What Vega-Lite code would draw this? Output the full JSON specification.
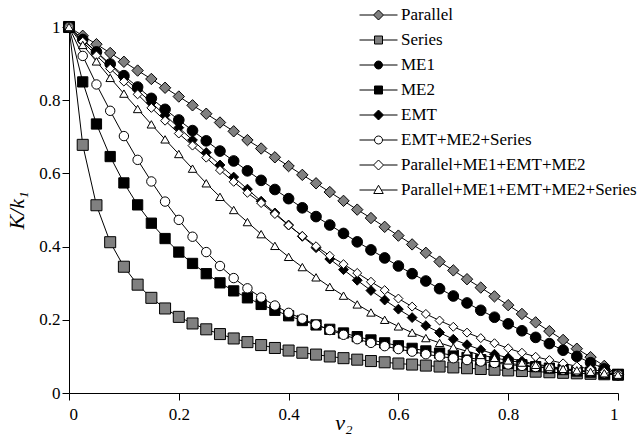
{
  "$schema": "https://vega.github.io/schema/vega-lite/v6.json",
  "width": 549,
  "height": 366,
  "autosize": "none",
  "padding": {"left": 69, "top": 27, "right": 26, "bottom": 47},
  "background": "white",
  "config": {
    "view": {"stroke": null},
    "font": "Liberation Serif",
    "axis": {
      "domainColor": "black", "tickColor": "black", "labelColor": "black", "titleColor": "black",
      "labelFont": "Liberation Serif", "titleFont": "Liberation Serif", "labelFontSize": 17,
      "grid": false, "tickSize": 7, "labelPadding": 2, "domainWidth": 1, "tickWidth": 1
    },
    "legend": {
      "labelFont": "Liberation Serif", "labelFontSize": 17, "labelColor": "black", "labelLimit": 400
    }
  },
  "data": {"values": [
    {"model":"Parallel","v":0,"K":1},{"model":"Parallel","v":0.025,"K":0.976},{"model":"Parallel","v":0.05,"K":0.953},{"model":"Parallel","v":0.075,"K":0.929},{"model":"Parallel","v":0.1,"K":0.905},{"model":"Parallel","v":0.125,"K":0.881},{"model":"Parallel","v":0.15,"K":0.858},{"model":"Parallel","v":0.175,"K":0.834},{"model":"Parallel","v":0.2,"K":0.81},{"model":"Parallel","v":0.225,"K":0.786},{"model":"Parallel","v":0.25,"K":0.763},{"model":"Parallel","v":0.275,"K":0.739},{"model":"Parallel","v":0.3,"K":0.715},{"model":"Parallel","v":0.325,"K":0.691},{"model":"Parallel","v":0.35,"K":0.668},{"model":"Parallel","v":0.375,"K":0.644},{"model":"Parallel","v":0.4,"K":0.62},{"model":"Parallel","v":0.425,"K":0.596},{"model":"Parallel","v":0.45,"K":0.573},{"model":"Parallel","v":0.475,"K":0.549},{"model":"Parallel","v":0.5,"K":0.525},{"model":"Parallel","v":0.525,"K":0.501},{"model":"Parallel","v":0.55,"K":0.478},{"model":"Parallel","v":0.575,"K":0.454},{"model":"Parallel","v":0.6,"K":0.43},{"model":"Parallel","v":0.625,"K":0.406},{"model":"Parallel","v":0.65,"K":0.383},{"model":"Parallel","v":0.675,"K":0.359},{"model":"Parallel","v":0.7,"K":0.335},{"model":"Parallel","v":0.725,"K":0.311},{"model":"Parallel","v":0.75,"K":0.288},{"model":"Parallel","v":0.775,"K":0.264},{"model":"Parallel","v":0.8,"K":0.24},{"model":"Parallel","v":0.825,"K":0.216},{"model":"Parallel","v":0.85,"K":0.193},{"model":"Parallel","v":0.875,"K":0.169},{"model":"Parallel","v":0.9,"K":0.145},{"model":"Parallel","v":0.925,"K":0.121},{"model":"Parallel","v":0.95,"K":0.098},{"model":"Parallel","v":0.975,"K":0.074},{"model":"Parallel","v":1,"K":0.05},
    {"model":"Series","v":0,"K":1},{"model":"Series","v":0.025,"K":0.678},{"model":"Series","v":0.05,"K":0.513},{"model":"Series","v":0.075,"K":0.412},{"model":"Series","v":0.1,"K":0.345},{"model":"Series","v":0.125,"K":0.296},{"model":"Series","v":0.15,"K":0.26},{"model":"Series","v":0.175,"K":0.231},{"model":"Series","v":0.2,"K":0.208},{"model":"Series","v":0.225,"K":0.19},{"model":"Series","v":0.25,"K":0.174},{"model":"Series","v":0.275,"K":0.161},{"model":"Series","v":0.3,"K":0.149},{"model":"Series","v":0.325,"K":0.139},{"model":"Series","v":0.35,"K":0.131},{"model":"Series","v":0.375,"K":0.123},{"model":"Series","v":0.4,"K":0.116},{"model":"Series","v":0.425,"K":0.11},{"model":"Series","v":0.45,"K":0.105},{"model":"Series","v":0.475,"K":0.0998},{"model":"Series","v":0.5,"K":0.0952},{"model":"Series","v":0.525,"K":0.0911},{"model":"Series","v":0.55,"K":0.0873},{"model":"Series","v":0.575,"K":0.0839},{"model":"Series","v":0.6,"K":0.0806},{"model":"Series","v":0.625,"K":0.0777},{"model":"Series","v":0.65,"K":0.0749},{"model":"Series","v":0.675,"K":0.0723},{"model":"Series","v":0.7,"K":0.0699},{"model":"Series","v":0.725,"K":0.0677},{"model":"Series","v":0.75,"K":0.0656},{"model":"Series","v":0.775,"K":0.0636},{"model":"Series","v":0.8,"K":0.0617},{"model":"Series","v":0.825,"K":0.06},{"model":"Series","v":0.85,"K":0.0583},{"model":"Series","v":0.875,"K":0.0567},{"model":"Series","v":0.9,"K":0.0552},{"model":"Series","v":0.925,"K":0.0538},{"model":"Series","v":0.95,"K":0.0525},{"model":"Series","v":0.975,"K":0.0512},{"model":"Series","v":1,"K":0.05},
    {"model":"ME1","v":0,"K":1},{"model":"ME1","v":0.025,"K":0.966},{"model":"ME1","v":0.05,"K":0.932},{"model":"ME1","v":0.075,"K":0.899},{"model":"ME1","v":0.1,"K":0.867},{"model":"ME1","v":0.125,"K":0.836},{"model":"ME1","v":0.15,"K":0.805},{"model":"ME1","v":0.175,"K":0.775},{"model":"ME1","v":0.2,"K":0.746},{"model":"ME1","v":0.225,"K":0.717},{"model":"ME1","v":0.25,"K":0.689},{"model":"ME1","v":0.275,"K":0.661},{"model":"ME1","v":0.3,"K":0.634},{"model":"ME1","v":0.325,"K":0.607},{"model":"ME1","v":0.35,"K":0.581},{"model":"ME1","v":0.375,"K":0.556},{"model":"ME1","v":0.4,"K":0.531},{"model":"ME1","v":0.425,"K":0.506},{"model":"ME1","v":0.45,"K":0.482},{"model":"ME1","v":0.475,"K":0.459},{"model":"ME1","v":0.5,"K":0.436},{"model":"ME1","v":0.525,"K":0.413},{"model":"ME1","v":0.55,"K":0.391},{"model":"ME1","v":0.575,"K":0.369},{"model":"ME1","v":0.6,"K":0.347},{"model":"ME1","v":0.625,"K":0.326},{"model":"ME1","v":0.65,"K":0.306},{"model":"ME1","v":0.675,"K":0.285},{"model":"ME1","v":0.7,"K":0.265},{"model":"ME1","v":0.725,"K":0.246},{"model":"ME1","v":0.75,"K":0.226},{"model":"ME1","v":0.775,"K":0.207},{"model":"ME1","v":0.8,"K":0.189},{"model":"ME1","v":0.825,"K":0.17},{"model":"ME1","v":0.85,"K":0.152},{"model":"ME1","v":0.875,"K":0.135},{"model":"ME1","v":0.9,"K":0.117},{"model":"ME1","v":0.925,"K":0.1},{"model":"ME1","v":0.95,"K":0.083},{"model":"ME1","v":0.975,"K":0.066},{"model":"ME1","v":1,"K":0.05},
    {"model":"ME2","v":0,"K":1},{"model":"ME2","v":0.025,"K":0.85},{"model":"ME2","v":0.05,"K":0.735},{"model":"ME2","v":0.075,"K":0.646},{"model":"ME2","v":0.1,"K":0.574},{"model":"ME2","v":0.125,"K":0.514},{"model":"ME2","v":0.15,"K":0.464},{"model":"ME2","v":0.175,"K":0.422},{"model":"ME2","v":0.2,"K":0.385},{"model":"ME2","v":0.225,"K":0.354},{"model":"ME2","v":0.25,"K":0.326},{"model":"ME2","v":0.275,"K":0.301},{"model":"ME2","v":0.3,"K":0.279},{"model":"ME2","v":0.325,"K":0.26},{"model":"ME2","v":0.35,"K":0.242},{"model":"ME2","v":0.375,"K":0.226},{"model":"ME2","v":0.4,"K":0.211},{"model":"ME2","v":0.425,"K":0.198},{"model":"ME2","v":0.45,"K":0.186},{"model":"ME2","v":0.475,"K":0.174},{"model":"ME2","v":0.5,"K":0.164},{"model":"ME2","v":0.525,"K":0.154},{"model":"ME2","v":0.55,"K":0.145},{"model":"ME2","v":0.575,"K":0.137},{"model":"ME2","v":0.6,"K":0.129},{"model":"ME2","v":0.625,"K":0.122},{"model":"ME2","v":0.65,"K":0.115},{"model":"ME2","v":0.675,"K":0.109},{"model":"ME2","v":0.7,"K":0.103},{"model":"ME2","v":0.725,"K":0.097},{"model":"ME2","v":0.75,"K":0.091},{"model":"ME2","v":0.775,"K":0.086},{"model":"ME2","v":0.8,"K":0.081},{"model":"ME2","v":0.825,"K":0.077},{"model":"ME2","v":0.85,"K":0.072},{"model":"ME2","v":0.875,"K":0.068},{"model":"ME2","v":0.9,"K":0.064},{"model":"ME2","v":0.925,"K":0.06},{"model":"ME2","v":0.95,"K":0.057},{"model":"ME2","v":0.975,"K":0.053},{"model":"ME2","v":1,"K":0.05},
    {"model":"EMT","v":0,"K":1},{"model":"EMT","v":0.025,"K":0.965},{"model":"EMT","v":0.05,"K":0.931},{"model":"EMT","v":0.075,"K":0.896},{"model":"EMT","v":0.1,"K":0.862},{"model":"EMT","v":0.125,"K":0.827},{"model":"EMT","v":0.15,"K":0.793},{"model":"EMT","v":0.175,"K":0.759},{"model":"EMT","v":0.2,"K":0.725},{"model":"EMT","v":0.225,"K":0.691},{"model":"EMT","v":0.25,"K":0.657},{"model":"EMT","v":0.275,"K":0.623},{"model":"EMT","v":0.3,"K":0.59},{"model":"EMT","v":0.325,"K":0.557},{"model":"EMT","v":0.35,"K":0.524},{"model":"EMT","v":0.375,"K":0.492},{"model":"EMT","v":0.4,"K":0.459},{"model":"EMT","v":0.425,"K":0.428},{"model":"EMT","v":0.45,"K":0.397},{"model":"EMT","v":0.475,"K":0.366},{"model":"EMT","v":0.5,"K":0.337},{"model":"EMT","v":0.525,"K":0.308},{"model":"EMT","v":0.55,"K":0.28},{"model":"EMT","v":0.575,"K":0.254},{"model":"EMT","v":0.6,"K":0.229},{"model":"EMT","v":0.625,"K":0.206},{"model":"EMT","v":0.65,"K":0.184},{"model":"EMT","v":0.675,"K":0.165},{"model":"EMT","v":0.7,"K":0.147},{"model":"EMT","v":0.725,"K":0.132},{"model":"EMT","v":0.75,"K":0.118},{"model":"EMT","v":0.775,"K":0.106},{"model":"EMT","v":0.8,"K":0.096},{"model":"EMT","v":0.825,"K":0.087},{"model":"EMT","v":0.85,"K":0.079},{"model":"EMT","v":0.875,"K":0.073},{"model":"EMT","v":0.9,"K":0.067},{"model":"EMT","v":0.925,"K":0.062},{"model":"EMT","v":0.95,"K":0.057},{"model":"EMT","v":0.975,"K":0.053},{"model":"EMT","v":1,"K":0.05},
    {"model":"EMT+ME2+Series","v":0,"K":1},{"model":"EMT+ME2+Series","v":0.025,"K":0.921},{"model":"EMT+ME2+Series","v":0.05,"K":0.843},{"model":"EMT+ME2+Series","v":0.075,"K":0.771},{"model":"EMT+ME2+Series","v":0.1,"K":0.702},{"model":"EMT+ME2+Series","v":0.125,"K":0.637},{"model":"EMT+ME2+Series","v":0.15,"K":0.578},{"model":"EMT+ME2+Series","v":0.175,"K":0.523},{"model":"EMT+ME2+Series","v":0.2,"K":0.473},{"model":"EMT+ME2+Series","v":0.225,"K":0.427},{"model":"EMT+ME2+Series","v":0.25,"K":0.385},{"model":"EMT+ME2+Series","v":0.275,"K":0.347},{"model":"EMT+ME2+Series","v":0.3,"K":0.314},{"model":"EMT+ME2+Series","v":0.325,"K":0.286},{"model":"EMT+ME2+Series","v":0.35,"K":0.261},{"model":"EMT+ME2+Series","v":0.375,"K":0.239},{"model":"EMT+ME2+Series","v":0.4,"K":0.219},{"model":"EMT+ME2+Series","v":0.425,"K":0.203},{"model":"EMT+ME2+Series","v":0.45,"K":0.187},{"model":"EMT+ME2+Series","v":0.475,"K":0.172},{"model":"EMT+ME2+Series","v":0.5,"K":0.159},{"model":"EMT+ME2+Series","v":0.525,"K":0.147},{"model":"EMT+ME2+Series","v":0.55,"K":0.137},{"model":"EMT+ME2+Series","v":0.575,"K":0.128},{"model":"EMT+ME2+Series","v":0.6,"K":0.12},{"model":"EMT+ME2+Series","v":0.625,"K":0.113},{"model":"EMT+ME2+Series","v":0.65,"K":0.106},{"model":"EMT+ME2+Series","v":0.675,"K":0.1},{"model":"EMT+ME2+Series","v":0.7,"K":0.095},{"model":"EMT+ME2+Series","v":0.725,"K":0.09},{"model":"EMT+ME2+Series","v":0.75,"K":0.086},{"model":"EMT+ME2+Series","v":0.775,"K":0.082},{"model":"EMT+ME2+Series","v":0.8,"K":0.078},{"model":"EMT+ME2+Series","v":0.825,"K":0.074},{"model":"EMT+ME2+Series","v":0.85,"K":0.071},{"model":"EMT+ME2+Series","v":0.875,"K":0.068},{"model":"EMT+ME2+Series","v":0.9,"K":0.064},{"model":"EMT+ME2+Series","v":0.925,"K":0.061},{"model":"EMT+ME2+Series","v":0.95,"K":0.058},{"model":"EMT+ME2+Series","v":0.975,"K":0.054},{"model":"EMT+ME2+Series","v":1,"K":0.05},
    {"model":"Parallel+ME1+EMT+ME2","v":0,"K":1},{"model":"Parallel+ME1+EMT+ME2","v":0.025,"K":0.96},{"model":"Parallel+ME1+EMT+ME2","v":0.05,"K":0.922},{"model":"Parallel+ME1+EMT+ME2","v":0.075,"K":0.886},{"model":"Parallel+ME1+EMT+ME2","v":0.1,"K":0.851},{"model":"Parallel+ME1+EMT+ME2","v":0.125,"K":0.816},{"model":"Parallel+ME1+EMT+ME2","v":0.15,"K":0.779},{"model":"Parallel+ME1+EMT+ME2","v":0.175,"K":0.744},{"model":"Parallel+ME1+EMT+ME2","v":0.2,"K":0.709},{"model":"Parallel+ME1+EMT+ME2","v":0.225,"K":0.676},{"model":"Parallel+ME1+EMT+ME2","v":0.25,"K":0.643},{"model":"Parallel+ME1+EMT+ME2","v":0.275,"K":0.609},{"model":"Parallel+ME1+EMT+ME2","v":0.3,"K":0.577},{"model":"Parallel+ME1+EMT+ME2","v":0.325,"K":0.547},{"model":"Parallel+ME1+EMT+ME2","v":0.35,"K":0.519},{"model":"Parallel+ME1+EMT+ME2","v":0.375,"K":0.489},{"model":"Parallel+ME1+EMT+ME2","v":0.4,"K":0.458},{"model":"Parallel+ME1+EMT+ME2","v":0.425,"K":0.429},{"model":"Parallel+ME1+EMT+ME2","v":0.45,"K":0.401},{"model":"Parallel+ME1+EMT+ME2","v":0.475,"K":0.375},{"model":"Parallel+ME1+EMT+ME2","v":0.5,"K":0.352},{"model":"Parallel+ME1+EMT+ME2","v":0.525,"K":0.328},{"model":"Parallel+ME1+EMT+ME2","v":0.55,"K":0.304},{"model":"Parallel+ME1+EMT+ME2","v":0.575,"K":0.281},{"model":"Parallel+ME1+EMT+ME2","v":0.6,"K":0.258},{"model":"Parallel+ME1+EMT+ME2","v":0.625,"K":0.236},{"model":"Parallel+ME1+EMT+ME2","v":0.65,"K":0.216},{"model":"Parallel+ME1+EMT+ME2","v":0.675,"K":0.198},{"model":"Parallel+ME1+EMT+ME2","v":0.7,"K":0.181},{"model":"Parallel+ME1+EMT+ME2","v":0.725,"K":0.165},{"model":"Parallel+ME1+EMT+ME2","v":0.75,"K":0.15},{"model":"Parallel+ME1+EMT+ME2","v":0.775,"K":0.136},{"model":"Parallel+ME1+EMT+ME2","v":0.8,"K":0.122},{"model":"Parallel+ME1+EMT+ME2","v":0.825,"K":0.11},{"model":"Parallel+ME1+EMT+ME2","v":0.85,"K":0.099},{"model":"Parallel+ME1+EMT+ME2","v":0.875,"K":0.09},{"model":"Parallel+ME1+EMT+ME2","v":0.9,"K":0.081},{"model":"Parallel+ME1+EMT+ME2","v":0.925,"K":0.073},{"model":"Parallel+ME1+EMT+ME2","v":0.95,"K":0.065},{"model":"Parallel+ME1+EMT+ME2","v":0.975,"K":0.058},{"model":"Parallel+ME1+EMT+ME2","v":1,"K":0.05},
    {"model":"Parallel+ME1+EMT+ME2+Series","v":0,"K":1},{"model":"Parallel+ME1+EMT+ME2+Series","v":0.025,"K":0.951},{"model":"Parallel+ME1+EMT+ME2+Series","v":0.05,"K":0.906},{"model":"Parallel+ME1+EMT+ME2+Series","v":0.075,"K":0.861},{"model":"Parallel+ME1+EMT+ME2+Series","v":0.1,"K":0.818},{"model":"Parallel+ME1+EMT+ME2+Series","v":0.125,"K":0.776},{"model":"Parallel+ME1+EMT+ME2+Series","v":0.15,"K":0.734},{"model":"Parallel+ME1+EMT+ME2+Series","v":0.175,"K":0.693},{"model":"Parallel+ME1+EMT+ME2+Series","v":0.2,"K":0.653},{"model":"Parallel+ME1+EMT+ME2+Series","v":0.225,"K":0.613},{"model":"Parallel+ME1+EMT+ME2+Series","v":0.25,"K":0.573},{"model":"Parallel+ME1+EMT+ME2+Series","v":0.275,"K":0.536},{"model":"Parallel+ME1+EMT+ME2+Series","v":0.3,"K":0.5},{"model":"Parallel+ME1+EMT+ME2+Series","v":0.325,"K":0.467},{"model":"Parallel+ME1+EMT+ME2+Series","v":0.35,"K":0.434},{"model":"Parallel+ME1+EMT+ME2+Series","v":0.375,"K":0.402},{"model":"Parallel+ME1+EMT+ME2+Series","v":0.4,"K":0.372},{"model":"Parallel+ME1+EMT+ME2+Series","v":0.425,"K":0.344},{"model":"Parallel+ME1+EMT+ME2+Series","v":0.45,"K":0.316},{"model":"Parallel+ME1+EMT+ME2+Series","v":0.475,"K":0.29},{"model":"Parallel+ME1+EMT+ME2+Series","v":0.5,"K":0.266},{"model":"Parallel+ME1+EMT+ME2+Series","v":0.525,"K":0.242},{"model":"Parallel+ME1+EMT+ME2+Series","v":0.55,"K":0.22},{"model":"Parallel+ME1+EMT+ME2+Series","v":0.575,"K":0.2},{"model":"Parallel+ME1+EMT+ME2+Series","v":0.6,"K":0.182},{"model":"Parallel+ME1+EMT+ME2+Series","v":0.625,"K":0.165},{"model":"Parallel+ME1+EMT+ME2+Series","v":0.65,"K":0.15},{"model":"Parallel+ME1+EMT+ME2+Series","v":0.675,"K":0.137},{"model":"Parallel+ME1+EMT+ME2+Series","v":0.7,"K":0.125},{"model":"Parallel+ME1+EMT+ME2+Series","v":0.725,"K":0.114},{"model":"Parallel+ME1+EMT+ME2+Series","v":0.75,"K":0.104},{"model":"Parallel+ME1+EMT+ME2+Series","v":0.775,"K":0.096},{"model":"Parallel+ME1+EMT+ME2+Series","v":0.8,"K":0.089},{"model":"Parallel+ME1+EMT+ME2+Series","v":0.825,"K":0.083},{"model":"Parallel+ME1+EMT+ME2+Series","v":0.85,"K":0.077},{"model":"Parallel+ME1+EMT+ME2+Series","v":0.875,"K":0.071},{"model":"Parallel+ME1+EMT+ME2+Series","v":0.9,"K":0.066},{"model":"Parallel+ME1+EMT+ME2+Series","v":0.925,"K":0.062},{"model":"Parallel+ME1+EMT+ME2+Series","v":0.95,"K":0.058},{"model":"Parallel+ME1+EMT+ME2+Series","v":0.975,"K":0.054},{"model":"Parallel+ME1+EMT+ME2+Series","v":1,"K":0.05}
  ]},
  "encoding": {
    "x": {"field": "v", "type": "quantitative",
      "scale": {"domain": [0, 1], "nice": false},
      "axis": {"values": [0, 0.2, 0.4, 0.6, 0.8, 1], "format": "~g", "title": "v₂",
        "labelFont": "Liberation Serif", "titleFont": "Liberation Serif",
        "titleFontStyle": "italic", "titleFontWeight": "normal", "titleFontSize": 22,
        "titleBaseline": "alphabetic", "titleY": 36, "labelPadding": 6}},
    "y": {"field": "K", "type": "quantitative",
      "scale": {"domain": [0, 1], "nice": false},
      "axis": {"values": [0, 0.2, 0.4, 0.6, 0.8, 1], "format": "~g", "title": "K/k₁",
        "labelFont": "Liberation Serif", "titleFont": "Liberation Serif",
        "titleFontStyle": "italic", "titleFontWeight": "normal", "titleFontSize": 22,
        "titleX": -41}}
  },
  "resolve": {
    "scale": {"shape": "independent", "fill": "independent", "size": "independent", "stroke": "independent"},
    "legend": {"shape": "independent", "fill": "independent", "size": "independent", "stroke": "independent"}
  },
  "layer": [
    {
      "mark": {"type": "line", "color": "black", "strokeWidth": 1},
      "encoding": {"detail": {"field": "model"}}
    },
    {
      "mark": {"type": "point", "filled": true, "stroke": "black", "strokeWidth": 1, "opacity": 1},
      "encoding": {
        "shape": {"field": "model", "type": "nominal", "legend": null,
          "scale": {"domain": ["Parallel","Series","ME1","ME2","EMT","EMT+ME2+Series","Parallel+ME1+EMT+ME2","Parallel+ME1+EMT+ME2+Series"],
                    "range": ["diamond","square","circle","square","diamond","circle","diamond","triangle-up"]}},
        "fill": {"field": "model", "type": "nominal", "legend": null,
          "scale": {"domain": ["Parallel","Series","ME1","ME2","EMT","EMT+ME2+Series","Parallel+ME1+EMT+ME2","Parallel+ME1+EMT+ME2+Series"],
                    "range": ["#808080","#808080","black","black","black","white","white","white"]}},
        "size": {"field": "model", "type": "nominal", "legend": null,
          "scale": {"domain": ["Parallel","Series","ME1","ME2","EMT","EMT+ME2+Series","Parallel+ME1+EMT+ME2","Parallel+ME1+EMT+ME2+Series"],
                    "range": [130, 72, 85, 72, 130, 85, 130, 130]}}
      }
    },
    {
      "transform": [{"filter": "datum.v > 5"}],
      "mark": {"type": "point", "filled": true, "strokeWidth": 1, "opacity": 1},
      "encoding": {
        "shape": {"field": "model", "type": "nominal",
          "scale": {"domain": ["Parallel","Series","ME1","ME2","EMT","EMT+ME2+Series","Parallel+ME1+EMT+ME2","Parallel+ME1+EMT+ME2+Series"],
                    "range": [
                      "M-3.8,0H-1M1,0H3.8M0,-1L1,0L0,1L-1,0Z",
                      "M-3.8,0H-0.8M0.8,0H3.8M-0.8,-0.8H0.8V0.8H-0.8Z",
                      "M-3.8,0H-0.8M0.8,0H3.8M0.8,0A0.8,0.8,0,1,1,-0.8,0A0.8,0.8,0,1,1,0.8,0Z",
                      "M-3.8,0H-0.8M0.8,0H3.8M-0.8,-0.8H0.8V0.8H-0.8Z",
                      "M-3.8,0H-1M1,0H3.8M0,-1L1,0L0,1L-1,0Z",
                      "M-3.8,0H-0.8M0.8,0H3.8M0.8,0A0.8,0.8,0,1,1,-0.8,0A0.8,0.8,0,1,1,0.8,0Z",
                      "M-3.8,0H-1M1,0H3.8M0,-1L1,0L0,1L-1,0Z",
                      "M-3.8,0H-0.55M0.55,0H3.8M0,-0.95L0.95,0.7L-0.95,0.7Z"]},
          "legend": {"title": null, "orient": "none", "legendX": 296, "legendY": -20.5, "padding": 0,
            "symbolSize": 100, "symbolOffset": 5, "labelOffset": 14, "rowPadding": 7,
            "symbolStrokeWidth": 1, "symbolStrokeColor": "black", "symbolOpacity": 1}},
        "fill": {"field": "model", "type": "nominal",
          "scale": {"domain": ["Parallel","Series","ME1","ME2","EMT","EMT+ME2+Series","Parallel+ME1+EMT+ME2","Parallel+ME1+EMT+ME2+Series"],
                    "range": ["#808080","#808080","black","black","black","white","white","white"]},
          "legend": {"title": null, "orient": "none", "legendX": 296, "legendY": -20.5, "padding": 0,
            "symbolSize": 100, "symbolOffset": 5, "labelOffset": 14, "rowPadding": 7,
            "symbolStrokeWidth": 1, "symbolStrokeColor": "black", "symbolOpacity": 1}},
        "stroke": {"field": "model", "type": "nominal",
          "scale": {"domain": ["Parallel","Series","ME1","ME2","EMT","EMT+ME2+Series","Parallel+ME1+EMT+ME2","Parallel+ME1+EMT+ME2+Series"],
                    "range": ["black","black","black","black","black","black","black","black"]},
          "legend": {"title": null, "orient": "none", "legendX": 296, "legendY": -20.5, "padding": 0,
            "symbolSize": 100, "symbolOffset": 5, "labelOffset": 14, "rowPadding": 7,
            "symbolStrokeWidth": 1, "symbolOpacity": 1}}
      }
    }
  ]
}
